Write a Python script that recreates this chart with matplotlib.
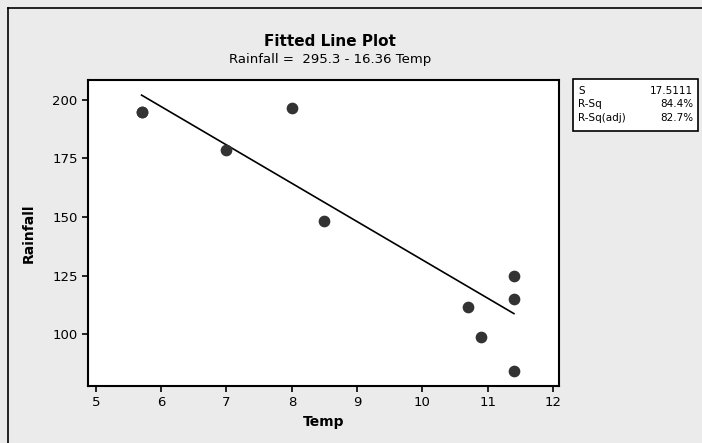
import matplotlib
matplotlib.use("agg")
import matplotlib.pyplot as plt
from matplotlib.patches import Rectangle

temp = [5.7, 5.7, 7.0, 8.0, 8.5, 10.7, 10.9, 11.4, 11.4, 11.4]
rainfall = [195, 195, 178.5, 196.5, 148.5, 111.5, 99.0, 125.0, 115.0, 84.5]
intercept = 295.3
slope = -16.36
stats_names = ["S", "R-Sq", "R-Sq(adj)"]
stats_values = ["17.5111", "84.4%", "82.7%"]
xticks = [5, 6, 7, 8, 9, 10, 11, 12]
yticks = [100, 125, 150, 175, 200]

W, H = 702, 443
fig = plt.figure(figsize=(W / 100, H / 100), dpi=100)
fig.patch.set_facecolor("#ebebeb")

# outer frame (only left and top visible in the crop)
fig.add_artist(plt.Line2D([8 / W, 8 / W], [0, 1 - 8 / H], color="black", lw=1.2))
fig.add_artist(plt.Line2D([8 / W, 1], [1 - 8 / H, 1 - 8 / H], color="black", lw=1.2))

ax = fig.add_axes([88 / W, 1 - 386 / H, (559 - 88) / W, (386 - 80) / H])
ax.set_facecolor("white")
ax.scatter(temp, rainfall, s=55, color="#333333", zorder=3)
xs = [min(temp), max(temp)]
ax.plot(xs, [intercept + slope * x for x in xs], color="black", lw=1.2)

ax.set_xlim(4.88, 12.09)
ax.set_ylim(77.9, 208.5)
ax.set_xticks(xticks)
ax.set_yticks(yticks)
for s in ax.spines.values():
    s.set_linewidth(1.5)
ax.tick_params(direction="out", length=4, width=1.2, labelsize=9.5, colors="black")
ax.set_xlabel("Temp", fontsize=10, fontweight="bold", labelpad=4)
ax.set_ylabel("Rainfall", fontsize=10, fontweight="bold", labelpad=12)

fig.text(330 / W, 1 - 41 / H, "Fitted Line Plot", ha="center", va="center",
         fontsize=11, fontweight="bold")
fig.text(330 / W, 1 - 60 / H, "Rainfall =  295.3 - 16.36 Temp", ha="center",
         va="center", fontsize=9.5)

# statistics box
bx0, by0, bx1, by1 = 573, 79, 698, 131
fig.add_artist(Rectangle((bx0 / W, 1 - by1 / H), (bx1 - bx0) / W, (by1 - by0) / H,
                         facecolor="white", edgecolor="black", lw=1.2,
                         transform=fig.transFigure))
for i, (n, v) in enumerate(zip(stats_names, stats_values)):
    yy = 1 - (91 + i * 13.5) / H
    fig.text((bx0 + 5) / W, yy, n, fontsize=7.5, va="center", ha="left")
    fig.text((bx1 - 5) / W, yy, v, fontsize=7.5, va="center", ha="right")

plt.savefig("out.png", dpi=100, facecolor=fig.get_facecolor())
plt.close()
